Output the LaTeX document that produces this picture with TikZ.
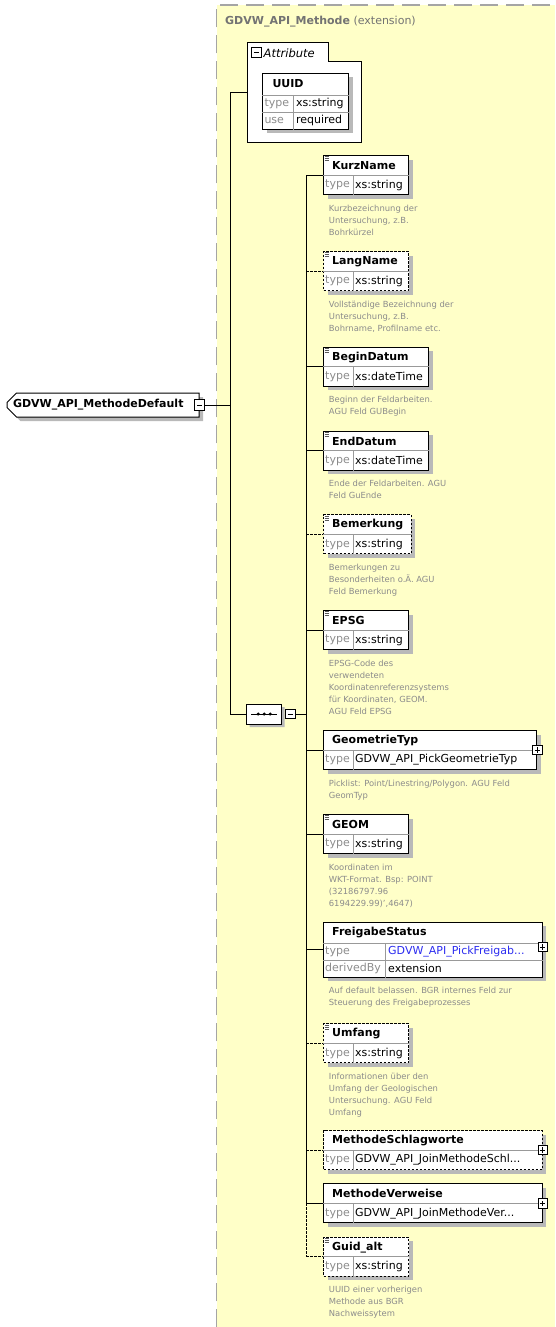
\documentclass[tikz,border=0pt]{standalone}
\usepackage{fontspec}
\setmainfont{DejaVu Sans}
\usetikzlibrary{shapes.misc,shadows}

\definecolor{extyellow}{RGB}{255,255,200}
\definecolor{extborder}{RGB}{165,165,165}
\definecolor{shadowgray}{RGB}{185,185,185}
\definecolor{docgray}{RGB}{140,140,140}
\definecolor{typeblue}{RGB}{45,45,240}

\tikzset{
ExtArea/.style={fill=extyellow, anchor=north west, inner sep=0pt},
ExtBorder/.style={draw=extborder, line width=1.5pt, dash pattern=on 18pt off 8pt},
ExtTitle/.style={anchor=west, inner sep=0pt, text=black!55, font=\fontsize{11}{13}\selectfont},
AttrFrame/.style={draw=black, fill=white, line width=1pt},
ElemBox/.style={draw=black, fill=white, line width=1pt, anchor=north west, inner sep=0pt,
        minimum height=39pt, general shadow={fill=shadowgray, shadow xshift=4pt, shadow yshift=-4pt}},
OptLine/.style={dash pattern=on 2.5pt off 1.5pt},
RowLine/.style={draw=black!40, line width=0.6pt},
IconLine/.style={draw=black!65, line width=0.6pt},
ElemTitle/.style={anchor=west, inner sep=0pt, font=\fontsize{11}{13}\selectfont\bfseries},
ElemKey/.style={anchor=west, inner sep=0pt, text=black!45, font=\fontsize{11}{13}\selectfont},
ElemValue/.style={anchor=west, inner sep=0pt, font=\fontsize{11}{13}\selectfont},
ElemDoc/.style={anchor=north west, inner sep=0pt, align=left, text=docgray, font=\fontsize{8.4}{12}\selectfont},
RootElem/.style={chamfered rectangle, chamfered rectangle corners={north west,south west},
        chamfered rectangle xsep=4.5pt, chamfered rectangle ysep=5pt, draw=black, fill=white, line width=1pt,
        minimum height=24pt, text width=180pt, inner xsep=1.5pt, inner ysep=0pt, align=left,
        font=\fontsize{11}{13}\selectfont\bfseries,
        general shadow={fill=shadowgray, shadow xshift=4pt, shadow yshift=-4pt}},
SeqNode/.style={chamfered rectangle, chamfered rectangle xsep=5pt, chamfered rectangle ysep=5pt,
        draw=black, fill=white, line width=1pt, minimum width=35pt, minimum height=20pt, inner sep=0pt,
        general shadow={fill=shadowgray, shadow xshift=3pt, shadow yshift=-3pt}},
MinusBox/.style={draw=black, fill=white, line width=0.7pt, minimum size=9.5pt, inner sep=0pt,
        path picture={\draw[line width=0.7pt] ([xshift=2pt]path picture bounding box.west)
        -- ([xshift=-2pt]path picture bounding box.east);}},
PlusBox/.style={draw=black, fill=white, line width=0.7pt, minimum size=9.5pt, inner sep=0pt,
        path picture={\draw[line width=0.7pt] ([xshift=2pt]path picture bounding box.west)
        -- ([xshift=-2pt]path picture bounding box.east)
        ([yshift=2pt]path picture bounding box.south) -- ([yshift=-2pt]path picture bounding box.north);}},
Connector/.style={draw=black, line width=1pt},
}

\begin{document}
\begin{tikzpicture}[x=1pt, y=-1pt]
\useasboundingbox (0,0) rectangle (555,1327);

\node[ExtArea, minimum width=338.3pt, minimum height=1322pt] (ext) at (216.7,5) {};
\draw[ExtBorder] (ext.south west) -- (ext.north west) -- (ext.north east);
\node[ExtTitle] (ext-title) at (225,22) {\textbf{GDVW\_API\_Methode} (extension)};

\node[anchor=north west, inner sep=0pt, minimum width=114pt, minimum height=99pt] (Attribute) at (247.5,43) {};
\draw[AttrFrame] (Attribute.north west) -- ++(81,0) -- ++(0,19) -| (Attribute.south east)
    -- (Attribute.south west) -- cycle;
\node[MinusBox] (Attribute-pm) at (256.5,52.5) {};
\node[anchor=west, inner sep=0pt, font=\fontsize{11.5}{13}\selectfont\itshape] (Attribute-label) at (263.5,53) {Attribute};

\node[ElemBox, minimum width=85.7pt, minimum height=56pt] (UUID) at (262.3,73) {};
\draw[RowLine] ([shift={(0,22)}]UUID.north west) -- ([shift={(0,22)}]UUID.north east);
\draw[RowLine] ([shift={(0,39)}]UUID.north west) -- ([shift={(0,39)}]UUID.north east);
\draw[RowLine] ([shift={(30.7,22)}]UUID.north west) -- ([shift={(30.7,0)}]UUID.south west);
\node[ElemTitle] (UUID-title) at ([shift={(10,11)}]UUID.north west) {UUID};
\node[ElemKey] (UUID-key) at ([shift={(2,30.5)}]UUID.north west) {type};
\node[ElemValue] (UUID-type) at ([shift={(33.5,30.5)}]UUID.north west) {xs:string};
\node[ElemKey] (UUID-key2) at ([shift={(2,47.5)}]UUID.north west) {use};
\node[ElemValue] (UUID-use) at ([shift={(33.5,47.5)}]UUID.north west) {required};

\node[RootElem] (root) at (103,405) {GDVW\_API\_MethodeDefault};
\node[MinusBox, minimum height=11pt] (root-pm) at (root.east) {};

\node[SeqNode] (seq) at (264.2,714) {};
\draw[line width=1pt] ([xshift=5pt]seq.west) -- ([xshift=-5pt]seq.east);
\foreach \dx in {-6,0,6}
    \fill ([xshift=\dx pt]seq.center) circle (1.7pt);
\node[MinusBox, anchor=west] (seq-pm) at ([xshift=3pt]seq.east) {};

\coordinate (spine) at (230.7,405);
\coordinate (seqspine) at (306,714);
\draw[Connector] (root-pm.east) -- (spine);
\draw[Connector] (Attribute.west) -| (spine) |- (seq.west);
\draw[Connector] (seq-pm.east) -- (seqspine);

\foreach \nm/\lbl/\ytop/\xright/\typ/\lstyle in {
    KurzName/KurzName/155/408/xs:string/solid,
    LangName/LangName/251/408/xs:string/OptLine,
    BeginDatum/BeginDatum/346.7/428/xs:dateTime/solid,
    EndDatum/EndDatum/430.7/428/xs:dateTime/solid,
    Bemerkung/Bemerkung/514.3/410.6/xs:string/OptLine,
    EPSG/EPSG/610/408/xs:string/solid,
    GEOM/GEOM/814/408/xs:string/solid,
    Umfang/Umfang/1023.3/408/xs:string/OptLine,
    GuidAlt/Guid\_alt/1236.7/408/xs:string/OptLine}{
    \pgfmathsetmacro\elemw{\xright-323}
    \node[ElemBox, \lstyle, minimum width=\elemw pt] (\nm) at (323,\ytop) {};
    \draw[RowLine] (\nm.west) -- (\nm.east);
    \draw[RowLine] ([xshift=30pt]\nm.west) -- ([xshift=30pt]\nm.south west);
    \foreach \dy in {1.5,3.5,5.5}
        \draw[IconLine] ([shift={(1.5,\dy)}]\nm.north west) -- ++(4,0);
    \node[ElemTitle] (\nm-title) at ([shift={(9,-9.5)}]\nm.west) {\lbl};
    \node[ElemKey] (\nm-key) at ([shift={(2,10)}]\nm.west) {type};
    \node[ElemValue] (\nm-type) at ([shift={(32,10)}]\nm.west) {\typ};
    \draw[Connector, \lstyle] (seqspine |- \nm.west) -- (\nm.west);
}

\foreach \nm/\ytop/\xright/\typ/\lstyle in {
    GeometrieTyp/730/536.3/GDVW\_API\_PickGeometrieTyp/solid,
    MethodeSchlagworte/1130/541.6/{GDVW\_API\_JoinMethodeSchl...}/OptLine,
    MethodeVerweise/1183.3/541.6/{GDVW\_API\_JoinMethodeVer...}/solid}{
    \pgfmathsetmacro\elemw{\xright-323}
    \node[ElemBox, \lstyle, minimum width=\elemw pt] (\nm) at (323,\ytop) {};
    \draw[RowLine] (\nm.west) -- (\nm.east);
    \draw[RowLine] ([xshift=30pt]\nm.west) -- ([xshift=30pt]\nm.south west);
    \node[ElemTitle] (\nm-title) at ([shift={(9,-9.5)}]\nm.west) {\nm};
    \node[ElemKey] (\nm-key) at ([shift={(2,10)}]\nm.west) {type};
    \node[ElemValue] (\nm-type) at ([shift={(32,10)}]\nm.west) {\typ};
    \node[PlusBox] (\nm-pm) at (\nm.east) {};
    \draw[Connector, \lstyle] (seqspine |- \nm.west) -- (\nm.west);
}

\node[ElemBox, minimum width=218.6pt, minimum height=55pt] (FreigabeStatus) at (323,921.7) {};
\draw[RowLine] ([shift={(0,21.3)}]FreigabeStatus.north west) -- ([shift={(0,21.3)}]FreigabeStatus.north east);
\draw[RowLine] ([shift={(0,38.3)}]FreigabeStatus.north west) -- ([shift={(0,38.3)}]FreigabeStatus.north east);
\draw[RowLine] ([shift={(62,21.3)}]FreigabeStatus.north west) -- ([shift={(62,0)}]FreigabeStatus.south west);
\node[ElemTitle] (FreigabeStatus-title) at ([shift={(9,10.7)}]FreigabeStatus.north west) {FreigabeStatus};
\node[ElemKey] (FreigabeStatus-key) at ([shift={(2,30)}]FreigabeStatus.north west) {type};
\node[ElemValue, text=typeblue] (FreigabeStatus-type) at ([shift={(65,30)}]FreigabeStatus.north west) {GDVW\_API\_PickFreigab...};
\node[ElemKey] (FreigabeStatus-key2) at ([shift={(2,47)}]FreigabeStatus.north west) {derivedBy};
\node[ElemValue] (FreigabeStatus-derived) at ([shift={(65,47)}]FreigabeStatus.north west) {extension};
\node[PlusBox] (FreigabeStatus-pm) at ([shift={(0,-2.7)}]FreigabeStatus.east) {};
\draw[Connector] (seqspine |- FreigabeStatus.west) -- (FreigabeStatus.west);

\draw[Connector] (seqspine |- KurzName.west) -- (seqspine |- MethodeVerweise.west);
\draw[Connector, OptLine] (seqspine |- MethodeVerweise.west) -- (seqspine |- GuidAlt.west);

\foreach \nm/\txt in {
    KurzName/{Kurzbezeichnung der\\Untersuchung, z.B.\\Bohrkürzel},
    LangName/{Vollständige Bezeichnung der\\Untersuchung, z.B.\\Bohrname, Profilname etc.},
    BeginDatum/{Beginn der Feldarbeiten.\\AGU Feld GUBegin},
    EndDatum/{Ende der Feldarbeiten. AGU\\Feld GuEnde},
    Bemerkung/{Bemerkungen zu\\Besonderheiten o.Ä. AGU\\Feld Bemerkung},
    EPSG/{EPSG-Code des\\verwendeten\\Koordinatenreferenzsystems\\für Koordinaten, GEOM.\\AGU Feld EPSG},
    GeometrieTyp/{Picklist: Point/Linestring/Polygon. AGU Feld\\GeomTyp},
    GEOM/{Koordinaten im\\WKT-Format. Bsp: POINT\\(32186797.96\\6194229.99)',4647)},
    FreigabeStatus/{Auf default belassen. BGR internes Feld zur\\Steuerung des Freigabeprozesses},
    Umfang/{Informationen über den\\Umfang der Geologischen\\Untersuchung. AGU Feld\\Umfang},
    GuidAlt/{UUID einer vorherigen\\Methode aus BGR\\Nachweissytem}}
    \node[ElemDoc] (\nm-doc) at ([shift={(5.7,9.5)}]\nm.south west) {\txt};
\end{tikzpicture}
\end{document}
